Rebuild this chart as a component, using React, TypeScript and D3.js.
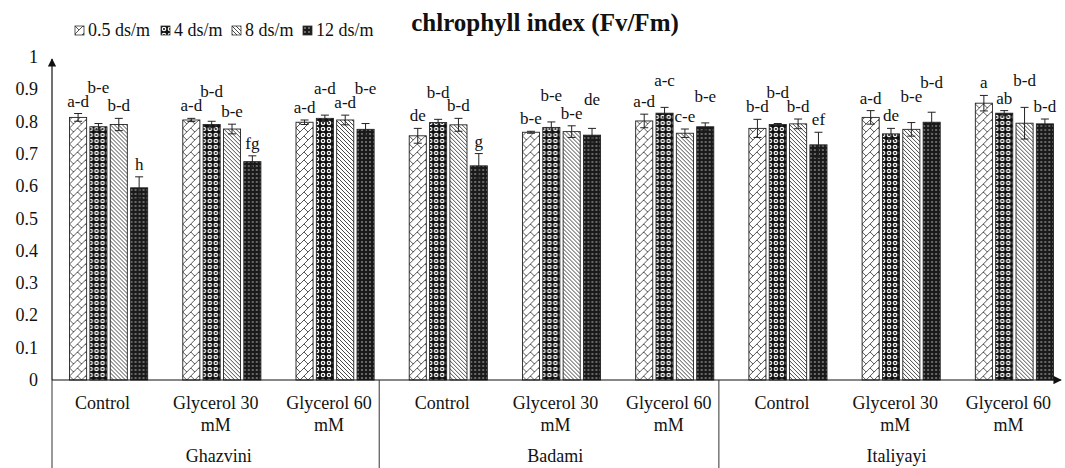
import React from 'react';
import * as d3 from 'd3';

const series = ['0.5 ds/m', '4 ds/m', '8 ds/m', '12 ds/m'];
const groups = ['Ghazvini', 'Badami', 'Italiyayi'];
const treatments = [['Control'], ['Glycerol 30', 'mM'], ['Glycerol 60', 'mM']];

// values per cluster (group x treatment), one per series
const values = [
  [0.813, 0.784, 0.791, 0.595],
  [0.805, 0.791, 0.777, 0.676],
  [0.798, 0.81, 0.805, 0.776],
  [0.756, 0.797, 0.79, 0.663],
  [0.767, 0.782, 0.769, 0.758],
  [0.802, 0.826, 0.764, 0.784],
  [0.779, 0.791, 0.793, 0.728],
  [0.813, 0.762, 0.776, 0.798],
  [0.857, 0.826, 0.795, 0.793],
];
const errors = [
  [0.012, 0.01, 0.019, 0.034],
  [0.005, 0.01, 0.015, 0.018],
  [0.007, 0.01, 0.015, 0.018],
  [0.023, 0.01, 0.02, 0.038],
  [0.003, 0.017, 0.018, 0.021],
  [0.021, 0.018, 0.013, 0.012],
  [0.028, 0.003, 0.015, 0.039],
  [0.021, 0.017, 0.021, 0.031],
  [0.024, 0.008, 0.049, 0.015],
];
const letters = [
  ['a-d', 'b-e', 'b-d', 'h'],
  ['a-d', 'b-d', 'b-e', 'fg'],
  ['a-d', 'a-d', 'a-d', 'b-e'],
  ['de', 'b-d', 'b-d', 'g'],
  ['b-e', 'b-e', 'b-e', 'de'],
  ['a-d', 'a-c', 'c-e', 'b-e'],
  ['b-d', 'b-d', 'b-d', 'ef'],
  ['a-d', 'de', 'b-e', 'b-d'],
  ['a', 'ab', 'b-d', 'b-d'],
];
const yTicks = [0, 0.1, 0.2, 0.3, 0.4, 0.5, 0.6, 0.7, 0.8, 0.9, 1];

const W = 1065, H = 468;
const FONT = '"Liberation Serif", "Times New Roman", Times, serif';
const patIds = ['p-zig', 'p-ring', 'p-diag', 'p-dot'];
const txt = { fontFamily: FONT, fill: '#111' };

function Patterns() {
  return (
    <defs>
      <pattern id="p-zig" width={8} height={8} patternUnits="userSpaceOnUse">
        <rect width={8} height={8} fill="#fff" />
        <path d="M0,8 L8,0 M0,0 L4,4" stroke="#444" strokeWidth={0.9} fill="none" />
      </pattern>
      <pattern id="p-ring" width={6} height={6} patternUnits="userSpaceOnUse">
        <rect width={6} height={6} fill="#111" />
        <circle cx={3} cy={3} r={2.3} fill="#fff" />
        <circle cx={3} cy={3} r={1.1} fill="#111" />
      </pattern>
      <pattern id="p-diag" width={4} height={4} patternUnits="userSpaceOnUse">
        <rect width={4} height={4} fill="#fff" />
        <path d="M0,0 L4,4 M-1,3 L1,5 M3,-1 L5,1" stroke="#333" strokeWidth={0.9} />
      </pattern>
      <pattern id="p-dot" width={4} height={4} patternUnits="userSpaceOnUse">
        <rect width={4} height={4} fill="#1a1a1a" />
        <circle cx={2} cy={2} r={0.75} fill="#ddd" />
      </pattern>
      <marker id="arrow" viewBox="0 0 10 10" refX={9} refY={5} markerWidth={7} markerHeight={7} orient="auto">
        <path d="M0,0 L10,5 L0,10 Z" fill="#111" />
      </marker>
    </defs>
  );
}

export default function App() {
  const clusters = d3.range(values.length);
  const x0 = d3.scaleBand<number>().domain(clusters).range([52, 1071]).paddingInner(0.31).paddingOuter(0.155);
  const x1 = d3.scaleBand<number>().domain(d3.range(series.length)).range([0, x0.bandwidth()]).paddingInner(0.16);
  const y = d3.scaleLinear().domain([0, 1]).range([380, 57]);
  const base = y(0);

  const seps = groups.map((_, g) => (g === 0 ? 52 : (x0(g * 3) as number) - 30));
  const sepEnd = [...seps.slice(1), W];

  // letter positions: above the error bar, stepped up when two labels would collide
  const labels: { x: number; y: number; t: string }[] = [];
  values.forEach((row, c) => {
    row.forEach((v, s) => {
      const t = letters[c][s];
      const x = (x0(c) as number) + (x1(s) as number) + x1.bandwidth() / 2;
      let ly = y(v + errors[c][s]) - 7;
      const prev = labels[labels.length - 1];
      if (prev && s > 0) {
        const half = (t.length + prev.t.length) * 4.2;
        if (x - prev.x < half && Math.abs(ly - prev.y) < 13) ly = Math.min(ly, prev.y) - 14;
      }
      labels.push({ x, y: ly, t });
    });
  });

  return (
    <svg width={W} height={H} style={{ position: 'absolute', left: 0, top: 0 }}>
      <Patterns />
      <rect width={W} height={H} fill="#fff" />

      {/* title */}
      <text x={545} y={31} textAnchor="middle" fontSize={25} fontWeight="bold" {...txt}>
        chlrophyll index (Fv/Fm)
      </text>

      {/* legend */}
      {series.map((s, i) => {
        const lx = [75, 161, 232, 303][i];
        return (
          <g key={s} transform={`translate(${lx},26)`}>
            <rect width={9} height={9} fill={`url(#${patIds[i]})`} stroke="#333" strokeWidth={0.8} />
            <text x={13} y={10} fontSize={18} {...txt}>{s}</text>
          </g>
        );
      })}

      {/* y ticks */}
      {yTicks.map((t) => (
        <text key={t} x={38} y={y(t) + 6} textAnchor="end" fontSize={18} {...txt}>
          {String(t)}
        </text>
      ))}

      {/* bars */}
      {values.map((row, c) => (
        <g key={c} transform={`translate(${x0(c)},0)`}>
          {row.map((v, s) => {
            const bx = x1(s) as number;
            const bw = x1.bandwidth();
            const cx = bx + bw / 2;
            const e = errors[c][s];
            return (
              <g key={s}>
                <rect x={bx} y={y(v)} width={bw} height={base - y(v)} fill={`url(#${patIds[s]})`} stroke="#222" strokeWidth={0.9} />
                <path
                  d={`M${cx},${y(v - e)}V${y(v + e)}M${cx - 4},${y(v + e)}H${cx + 4}M${cx - 4},${y(v - e)}H${cx + 4}`}
                  stroke="#222"
                  strokeWidth={1}
                  fill="none"
                />
              </g>
            );
          })}
        </g>
      ))}

      {/* significance letters */}
      {labels.map((l, i) => (
        <text key={i} x={l.x} y={l.y} textAnchor="middle" fontSize={17} {...txt}>
          {l.t}
        </text>
      ))}

      {/* axes */}
      <line x1={52} y1={base} x2={52} y2={59} stroke="#111" strokeWidth={1.2} markerEnd="url(#arrow)" />
      <line x1={52} y1={base} x2={1061} y2={base} stroke="#111" strokeWidth={1.2} markerEnd="url(#arrow)" />

      {/* category separators */}
      {seps.map((sx, g) => (
        <line key={g} x1={sx} y1={base} x2={sx} y2={H} stroke="#333" strokeWidth={1} />
      ))}

      {/* treatment labels */}
      {clusters.map((c) => {
        const lines = treatments[c % 3];
        const cx = (x0(c) as number) + x0.bandwidth() / 2 - 6;
        return (
          <text key={c} textAnchor="middle" fontSize={18} {...txt}>
            {lines.map((l, k) => (
              <tspan key={k} x={cx} y={409 + k * 22}>{l}</tspan>
            ))}
          </text>
        );
      })}

      {/* group labels */}
      {groups.map((g, i) => {
        const mid = (seps[i] + sepEnd[i]) / 2;
        const cen = (x0(i * 3 + 1) as number) + x0.bandwidth() / 2;
        return (
          <text key={g} x={(mid + cen) / 2} y={462} textAnchor="middle" fontSize={18} {...txt}>
            {g}
          </text>
        );
      })}
    </svg>
  );
}
